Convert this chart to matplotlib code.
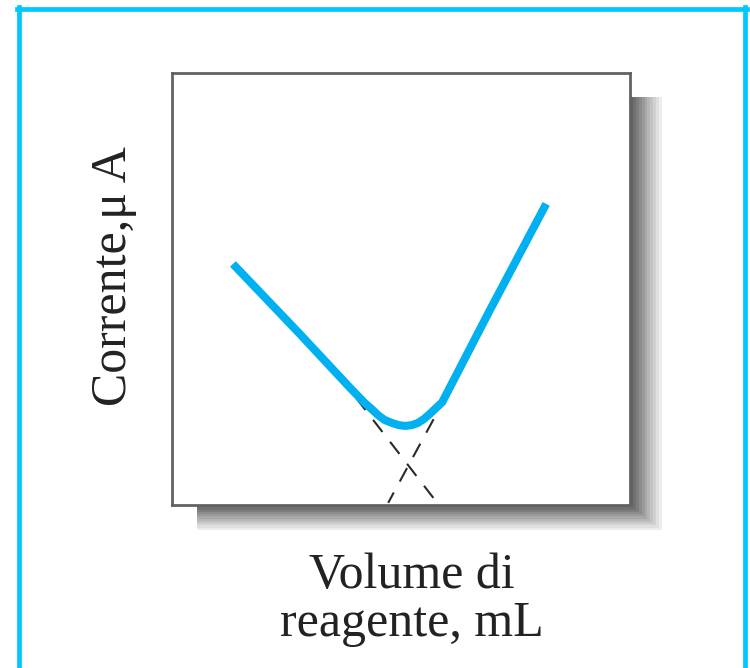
import matplotlib
matplotlib.use("Agg")
import matplotlib.pyplot as plt
from matplotlib.patches import Rectangle
from matplotlib.lines import Line2D
import numpy as np

plt.rcParams['font.family'] = ['Liberation Serif', 'DejaVu Serif']
plt.rcParams['lines.scale_dashes'] = False

# titration curve (volume in arbitrary mL units, current in arbitrary uA units)
volume = [1.33, 2.79, 3.89, 4.21, 4.38, 4.50, 4.64, 4.80, 4.95, 5.09, 5.24,
          5.37, 5.50, 5.63, 5.90, 6.94, 8.17]
current = [5.58, 3.96, 2.71, 2.36, 2.20, 2.08, 1.97, 1.90, 1.85, 1.83, 1.85,
           1.90, 1.99, 2.11, 2.38, 4.51, 6.97]

# extrapolated branches (dashed)
left_ext_x = [4.02, 5.79]
left_ext_y = [2.48, 0.05]
right_ext_x = [6.00, 4.72]
right_ext_y = [2.55, 0.05]

ylabel = "Corrente,μ A"
xlabel = "Volume di\nreagente, mL"

W, H = 750, 668
fig = plt.figure(figsize=(W / 100, H / 100), dpi=100)


def fx(px):
    return px / W


def fy(py):
    return 1 - py / H


# axes box in pixels
ax_l, ax_t, ax_r, ax_b = 172, 73, 630, 505

# drop shadow: nested rectangles, light to dark
n = 12
for t in np.linspace(1, 0, n):
    right = ax_r + 32 * t
    bottom = ax_b + 25 * t
    g = 0.33 + 0.6 * t
    fig.patches.append(Rectangle((fx(197), fy(bottom)), fx(right) - fx(197),
                                 fy(97) - fy(bottom), transform=fig.transFigure,
                                 facecolor=(g, g, g), edgecolor='none', zorder=0))

ax = fig.add_axes([fx(ax_l), fy(ax_b), fx(ax_r) - fx(ax_l), fy(ax_t) - fy(ax_b)])
ax.set_zorder(2)
ax.set_facecolor('white')
ax.set_xlim(0, 10)
ax.set_ylim(0, 10)
ax.set_xticks([])
ax.set_yticks([])
for s in ax.spines.values():
    s.set_color('#626262')
    s.set_linewidth(2.0)

ax.plot(left_ext_x, left_ext_y, color='#2a2a2a', lw=1.5, dashes=(11, 9), zorder=1)
ax.plot(right_ext_x, right_ext_y, color='#2a2a2a', lw=1.5, dashes=(11, 9), zorder=1)
ax.plot(volume, current, color='#00b0f0', lw=5.8, solid_joinstyle='round',
        solid_capstyle='butt', zorder=2)

fig.text(fx(114), fy(276), ylabel, rotation=90, ha='center', va='center',
         fontsize=36, color='#222222')
fig.text(fx(412), fy(600), xlabel, ha='center', va='center', fontsize=36,
         color='#222222', linespacing=1.05)

# cyan frame
cyan = '#00c8ff'
lw = 3.4
fig.lines.append(Line2D([fx(19), fx(19)], [fy(6.5), 0], transform=fig.transFigure,
                        color=cyan, lw=lw))
fig.lines.append(Line2D([fx(17), fx(747)], [fy(8.5), fy(8.5)], transform=fig.transFigure,
                        color=cyan, lw=lw))
fig.lines.append(Line2D([fx(745), fx(745)], [fy(6.5), 0], transform=fig.transFigure,
                        color=cyan, lw=lw))

fig.savefig("out.png", dpi=100, facecolor='white')
